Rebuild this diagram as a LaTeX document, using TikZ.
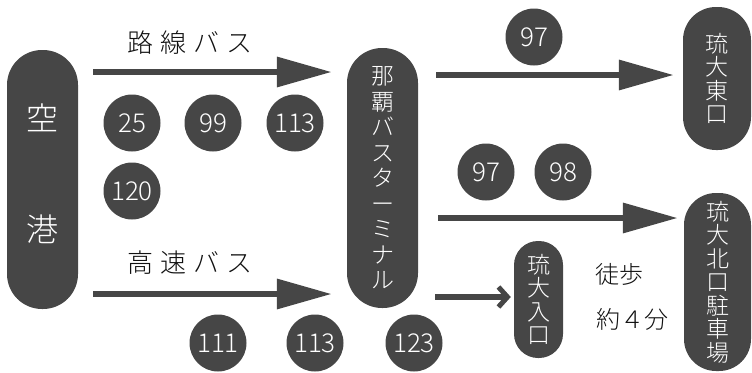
\documentclass[tikz,border=0pt]{standalone}
\usepackage{fontspec}
\usetikzlibrary{arrows.meta}
\newfontfamily\jp{Noto Sans CJK JP Light}
\definecolor{dg}{HTML}{464646}
\definecolor{ink}{HTML}{111111}
\tikzset{
  box/.style={fill=dg, draw=none, inner sep=0pt, text=white, align=center},
  vt/.style={font=\jp\fontsize{23}{23.5}\selectfont},
  num/.style={circle, fill=dg, text=white, minimum size=57pt, inner sep=0pt, font=\jp\fontsize{26}{26}\selectfont},
  lbl/.style={text=ink, inner sep=0pt, font=\jp\fontsize{26}{26}\selectfont},
  bigarrow/.style={draw=dg, line width=6.5pt, -{Triangle[length=55pt,width=29pt]}},
  smallarrow/.style={draw=dg, line width=6.5pt, -{Straight Barb[length=9pt,width=20pt,line width=5pt]}}
}
\begin{document}
\begin{tikzpicture}[x=1pt,y=-1pt]
\useasboundingbox (0,0) rectangle (752,372);
% boxes
\node[box, minimum width=71pt, minimum height=259pt, rounded corners=35pt] (air) at (42.5,179.5) {};
\node[text=white, font=\jp\fontsize{32}{32}\selectfont, inner sep=0pt] (k1) at (43,118) {空};
\node[text=white, font=\jp\fontsize{32}{32}\selectfont, inner sep=0pt] (k2) at (43,229) {港};
\node[box, vt, font=\jp\fontsize{23}{25.5}\selectfont, minimum width=71pt, minimum height=260pt, rounded corners=35pt] (term) at (382.5,178) {那\\覇\\バ\\ス\\タ\\ー\\ミ\\ナ\\ル};
\node[box, vt, minimum width=68pt, minimum height=143pt, rounded corners=33pt] (east) at (717,78.5) {琉\\大\\東\\口};
\node[box, vt, minimum width=49pt, minimum height=117pt, rounded corners=24pt] (ent) at (538.5,299.5) {琉\\大\\入\\口};
\node[box, vt, minimum width=67pt, minimum height=178pt, rounded corners=32pt] (north) at (717.5,282) {琉\\大\\北\\口\\駐\\車\\場};
% labels
\node[lbl] (l1) at (190,43) {路\kern7pt 線\kern7pt バ\kern7pt ス};
\node[lbl] (l2) at (190,263) {高\kern7pt 速\kern7pt バ\kern7pt ス};
\node[lbl, font=\jp\fontsize{24}{24}\selectfont] (l3) at (619,274) {徒歩};
\node[lbl, font=\jp\fontsize{24}{24}\selectfont] (l4) at (632,319) {約４分};
% number circles
\node[num] (n25) at (132,123) {25};
\node[num] (n99) at (213,123) {99};
\node[num] (n113) at (295,123) {113};
\node[num] (n120) at (132,191) {120};
\node[num] (n97a) at (534,37) {97};
\node[num] (n97b) at (486,172) {97};
\node[num] (n98) at (563,172) {98};
\node[num] (n111) at (218,343) {111};
\node[num] (n113b) at (315,343) {113};
\node[num] (n123) at (414,343) {123};
% arrows
\draw[bigarrow, shorten <=15pt, shorten >=15pt] (air.east |- 0,72) -- (term.west |- 0,72);
\draw[bigarrow, shorten <=15pt, shorten >=15pt] (air.east |- 0,294) -- (term.west |- 0,294);
\draw[bigarrow, shorten <=18pt, shorten >=9pt] (term.east |- 0,75) -- (east.west |- 0,75);
\draw[bigarrow, shorten <=20pt, shorten >=6pt] (term.east |- 0,218) -- (north.west |- 0,218);
\draw[smallarrow, shorten <=17pt, shorten >=3pt] (term.east |- 0,297) -- (ent.west |- 0,297);
\end{tikzpicture}
\end{document}
